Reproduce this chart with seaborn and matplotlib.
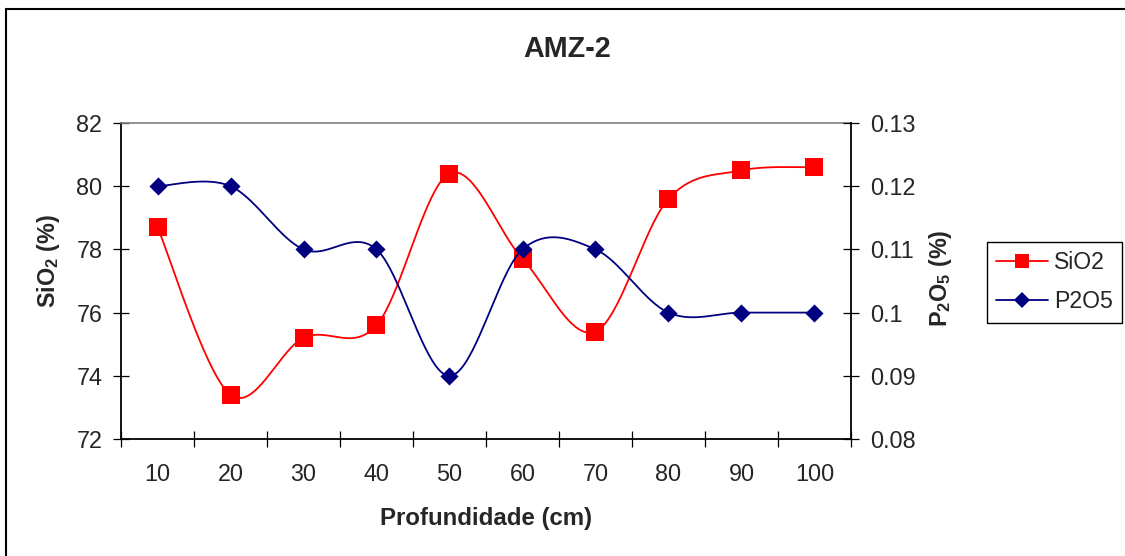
import numpy as np
import pandas as pd
import matplotlib
matplotlib.use("Agg")
import matplotlib.pyplot as plt
import seaborn as sns
from matplotlib.lines import Line2D
from matplotlib.patches import Rectangle

# Depth profile AMZ-2
depth = [10, 20, 30, 40, 50, 60, 70, 80, 90, 100]
sio2 = [78.7, 73.4, 75.2, 75.6, 80.4, 77.7, 75.4, 79.6, 80.5, 80.6]
p2o5 = [0.12, 0.12, 0.11, 0.11, 0.09, 0.11, 0.11, 0.10, 0.10, 0.10]
sio2_ticks = [72, 74, 76, 78, 80, 82]
p2o5_ticks = [0.08, 0.09, 0.10, 0.11, 0.12, 0.13]

RED = "#FF0000"
NAVY = "#000080"


def smooth(xs, ys, n=40):
    """Cubic Bezier smoothing through every point (Catmull-Rom style)."""
    x = np.asarray(xs, float)
    y = np.asarray(ys, float)
    xp = np.concatenate([[x[0]], x, [x[-1]]])
    yp = np.concatenate([[y[0]], y, [y[-1]]])
    t = np.linspace(0, 1, n)[:, None]
    out = []
    for i in range(len(x) - 1):
        p0 = np.array([xp[i + 1], yp[i + 1]])
        p3 = np.array([xp[i + 2], yp[i + 2]])
        c1 = p0 + (np.array([xp[i + 2], yp[i + 2]]) - np.array([xp[i], yp[i]])) / 6
        c2 = p3 - (np.array([xp[i + 3], yp[i + 3]]) - np.array([xp[i + 1], yp[i + 1]])) / 6
        seg = ((1 - t) ** 3) * p0 + 3 * ((1 - t) ** 2) * t * c1 + 3 * (1 - t) * t ** 2 * c2 + t ** 3 * p3
        out.append(seg if i == 0 else seg[1:])
    pts = np.vstack(out)
    return pd.DataFrame({"x": pts[:, 0], "y": pts[:, 1]})


sns.set_style("white")
plt.rcParams["font.family"] = ["Liberation Sans", "DejaVu Sans"]
plt.rcParams["mathtext.fontset"] = "custom"
plt.rcParams["mathtext.rm"] = "Liberation Sans"
plt.rcParams["mathtext.bf"] = "Liberation Sans:bold"
plt.rcParams["mathtext.it"] = "Liberation Sans:italic"

fig = plt.figure(figsize=(11.25, 5.56), dpi=100)
ax = fig.add_axes([121 / 1125, 1 - 439 / 556, 730 / 1125, 316 / 556])
ax2 = ax.twinx()

pos = np.arange(len(depth))
df = pd.DataFrame({"pos": pos, "SiO2": sio2, "P2O5": p2o5})

s1 = smooth(pos, sio2)
s2 = smooth(pos, p2o5)
sns.lineplot(data=s1, x="x", y="y", ax=ax, color=RED, lw=1.3, sort=False, estimator=None)
sns.scatterplot(data=df, x="pos", y="SiO2", ax=ax, marker="s", s=170, color=RED,
                linewidth=0, zorder=3)
sns.lineplot(data=s2, x="x", y="y", ax=ax2, color=NAVY, lw=1.3, sort=False, estimator=None)
sns.scatterplot(data=df, x="pos", y="P2O5", ax=ax2, marker="D", s=85, color=NAVY,
                linewidth=0, zorder=3)

# Axes limits and ticks
ax.set_xlim(-0.5, len(depth) - 0.5)
ax.set_ylim(sio2_ticks[0], sio2_ticks[-1])
ax2.set_ylim(p2o5_ticks[0], p2o5_ticks[-1])
ax.set_xticks(pos)
ax.set_xticklabels([str(d) for d in depth])
ax.set_xticks(np.arange(-0.5, len(depth), 1), minor=True)
ax.set_yticks(sio2_ticks)
ax.set_yticklabels([f"{v:g}" for v in sio2_ticks])
ax2.set_yticks(p2o5_ticks)
ax2.set_yticklabels([f"{v:g}" for v in p2o5_ticks])

TICK_FS = 16.8
ax.tick_params(axis="x", which="major", bottom=True, length=0, pad=17.5, labelsize=TICK_FS)
ax.tick_params(axis="x", which="minor", bottom=True, direction="inout", length=11,
               width=0.9, color="black")
ax.tick_params(axis="y", which="major", left=True, direction="inout", length=11,
               width=0.9, pad=8, labelsize=TICK_FS, color="black")
ax2.tick_params(axis="y", which="major", right=True, direction="inout", length=11,
                width=0.9, pad=8, labelsize=TICK_FS, color="black")
ax2.tick_params(axis="x", which="both", bottom=False)

for a in (ax, ax2):
    a.set_xlabel("")
    a.set_ylabel("")
    a.grid(False)
    a.set_facecolor("none")

ax.spines["top"].set_color("#808080")
ax.spines["top"].set_linewidth(1.2)
ax.spines["right"].set_visible(False)
for side in ("left", "bottom"):
    ax.spines[side].set_color("black")
    ax.spines[side].set_linewidth(1.3)
for side in ("top", "left", "bottom"):
    ax2.spines[side].set_visible(False)
ax2.spines["right"].set_color("black")
ax2.spines["right"].set_linewidth(1.3)

# Axis titles
ax.set_xlabel("Profundidade (cm)", fontsize=17.3, fontweight="bold", va="center")
ax.xaxis.set_label_coords(0.5, -0.253)
ax.set_ylabel(r"$\mathbf{SiO_2\ (\%)}$", fontsize=16.8, va="center", ha="center")
ax.yaxis.set_label_coords(-0.100, 0.563)
ax2.set_ylabel(r"$\mathbf{P_2O_5\ (\%)}$", fontsize=16.8, va="center", ha="center",
               rotation=90)
ax2.yaxis.set_label_coords(1.123, 0.509)

fig.text(0.504, 1 - 57 / 556, "AMZ-2", fontsize=20.7, fontweight="bold",
         ha="center", va="baseline")

# Legend
handles = [
    Line2D([], [], color=RED, lw=1.3, marker="s", markersize=10.5, markeredgewidth=0),
    Line2D([], [], color=NAVY, lw=1.3, marker="D", markersize=8.5, markeredgewidth=0),
]
leg = fig.legend(handles, ["SiO2", "P2O5"], loc="upper left",
                 bbox_to_anchor=(987 / 1125, 1 - 242 / 556), fontsize=16.6,
                 frameon=True, fancybox=False, framealpha=1, edgecolor="black",
                 handlelength=2.25, handletextpad=0.25, labelspacing=0.7,
                 borderpad=0.4, borderaxespad=0)
leg.get_frame().set_linewidth(1.0)

# Chart border
fig.patches.append(Rectangle((6 / 1125, -0.1), 1.2, 1 - 9 / 556 + 0.1, fill=False,
                             edgecolor="black", lw=1.5, transform=fig.transFigure))

fig.savefig("out.png", dpi=100)
